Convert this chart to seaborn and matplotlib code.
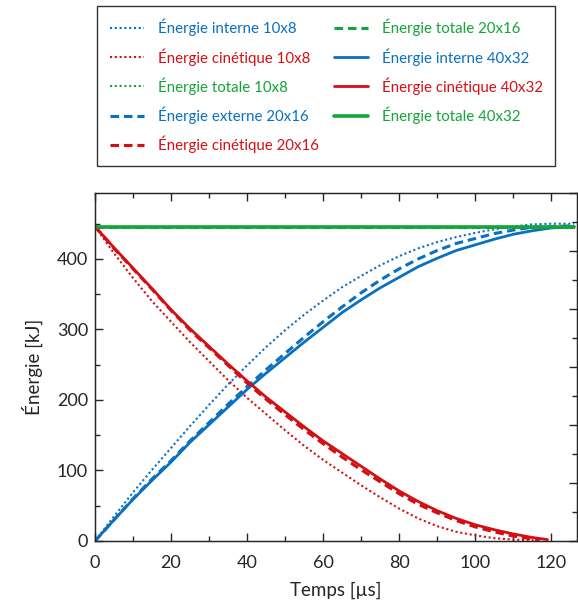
import matplotlib
matplotlib.use("Agg")
import matplotlib.pyplot as plt
import seaborn as sns
from matplotlib.ticker import MultipleLocator

# temps [µs]
t = [0, 5, 10, 15, 20, 25, 30, 35, 40, 45, 50, 55, 60, 65, 70, 75, 80, 85, 90, 95, 100, 105, 110, 115, 120, 126]
t_cin_10x8 = [0, 5, 10, 15, 20, 25, 30, 35, 40, 45, 50, 55, 60, 65, 70, 75, 80, 85, 90, 95, 100, 105, 110, 115, 117]
t_cin_20x16 = [0, 5, 10, 15, 20, 25, 30, 35, 40, 45, 50, 55, 60, 65, 70, 75, 80, 85, 90, 95, 100, 105, 110, 115, 117]
t_cin_40x32 = [0, 5, 10, 15, 20, 25, 30, 35, 40, 45, 50, 55, 60, 65, 70, 75, 80, 85, 90, 95, 100, 105, 110, 115, 119]
t_tot = [0, 20, 40, 60, 80, 100, 120, 126]

# énergies [kJ]
interne_10x8 = [0, 35, 69, 101, 132, 163, 193, 222, 249, 275, 299, 321, 341, 360, 376, 391, 404, 415, 424, 431, 437, 442, 446, 449, 450, 450]
cinetique_10x8 = [446, 408, 373, 340, 311, 282, 255, 228, 203, 180, 157, 135, 115, 97, 79, 62, 46, 32, 21, 13, 8, 4, 2, 1, 0]
totale_10x8 = [446, 446, 446, 446, 446, 446, 446, 446]

externe_20x16 = [0, 30, 60, 88, 114, 142, 168, 194, 219, 243, 266, 289, 311, 332, 352, 370, 386, 400, 412, 422, 429, 436, 441, 445, 446, 447]
cinetique_20x16 = [446, 415, 386, 357, 327, 299, 274, 249, 224, 201, 179, 158, 138, 119, 101, 84, 67, 52, 40, 29, 20, 13, 7, 3, 1]
totale_20x16 = [446, 446, 446, 446, 446, 446, 446, 446]

interne_40x32 = [0, 30, 59, 86, 112, 140, 165, 190, 215, 238, 260, 282, 303, 324, 342, 359, 374, 389, 401, 412, 420, 428, 435, 440, 444, 446]
cinetique_40x32 = [446, 416, 387, 358, 328, 301, 276, 251, 227, 204, 183, 162, 142, 124, 106, 88, 71, 56, 43, 32, 23, 16, 10, 5, 2]
totale_40x32 = [446, 446, 446, 446, 446, 446, 446, 446]

BLEU = "#0a70c0"
ROUGE = "#d40f14"
VERT = "#13a538"

sns.set_style("ticks")
plt.rcParams["font.family"] = ["Lato", "DejaVu Sans"]

fig = plt.figure(figsize=(5.78, 6.05), dpi=100)
ax = fig.add_axes([0.1644, 0.1058, 0.834, 0.5757])

dot = (0, (1, 1.3))
dash = (0, (2.8, 1.6))
series = [
    (t, interne_10x8, BLEU, dot, 1.5, "Énergie interne 10x8"),
    (t_cin_10x8, cinetique_10x8, ROUGE, dot, 1.5, "Énergie cinétique 10x8"),
    (t_tot, totale_10x8, VERT, dot, 1.5, "Énergie totale 10x8"),
    (t, externe_20x16, BLEU, dash, 2.2, "Énergie externe 20x16"),
    (t_cin_20x16, cinetique_20x16, ROUGE, dash, 2.2, "Énergie cinétique 20x16"),
    (t_tot, totale_20x16, VERT, dash, 2.2, "Énergie totale 20x16"),
    (t, interne_40x32, BLEU, "-", 2.0, "Énergie interne 40x32"),
    (t_cin_40x32, cinetique_40x32, ROUGE, "-", 2.0, "Énergie cinétique 40x32"),
    (t_tot, totale_40x32, VERT, "-", 2.6, "Énergie totale 40x32"),
]

handles = []
for x, y, c, ls, lw, lab in series:
    sns.lineplot(x=x, y=y, ax=ax, color=c, linestyle=ls, lw=lw, label=lab, legend=False)
    handles.append(ax.lines[-1])

ax.set_xlim(0, 126.8)
ax.set_ylim(0, 494)
ax.xaxis.set_major_locator(MultipleLocator(20))
ax.xaxis.set_minor_locator(MultipleLocator(10))
ax.yaxis.set_major_locator(MultipleLocator(100))
ax.yaxis.set_minor_locator(MultipleLocator(50))
ax.tick_params(which="both", direction="in", top=True, right=False, labelsize=13, width=1)
ax.tick_params(which="major", length=6)
ax.tick_params(which="minor", length=3.5)
ax.tick_params(axis="x", which="both", pad=10)
ax.tick_params(axis="y", which="both", pad=5)
for s in ax.spines.values():
    s.set_linewidth(1)

# graduations de droite (autre échelle)
ax2 = ax.twinx()
ax2.set_ylim(0, 12)
ax2.yaxis.set_major_locator(MultipleLocator(2))
ax2.yaxis.set_minor_locator(MultipleLocator(1))
ax2.tick_params(which="both", direction="in", labelright=False, width=1)
ax2.tick_params(which="major", length=6)
ax2.tick_params(which="minor", length=3.5)

ax.set_xlabel("Temps [µs]", fontsize=13.5, labelpad=8)
ax.set_ylabel("Énergie [kJ]", fontsize=13.5, labelpad=10)

leg = fig.legend(handles=handles, loc="upper left", bbox_to_anchor=(0.168, 0.99),
                 ncol=2, fontsize=10.8, frameon=True, fancybox=False, borderaxespad=0,
                 borderpad=0.85, handlelength=2.3, handletextpad=0.9, columnspacing=1.0,
                 labelspacing=0.78, labelcolor="linecolor")
leg.get_frame().set_edgecolor("black")
leg.get_frame().set_linewidth(1)

plt.savefig("out.png", dpi=100)
